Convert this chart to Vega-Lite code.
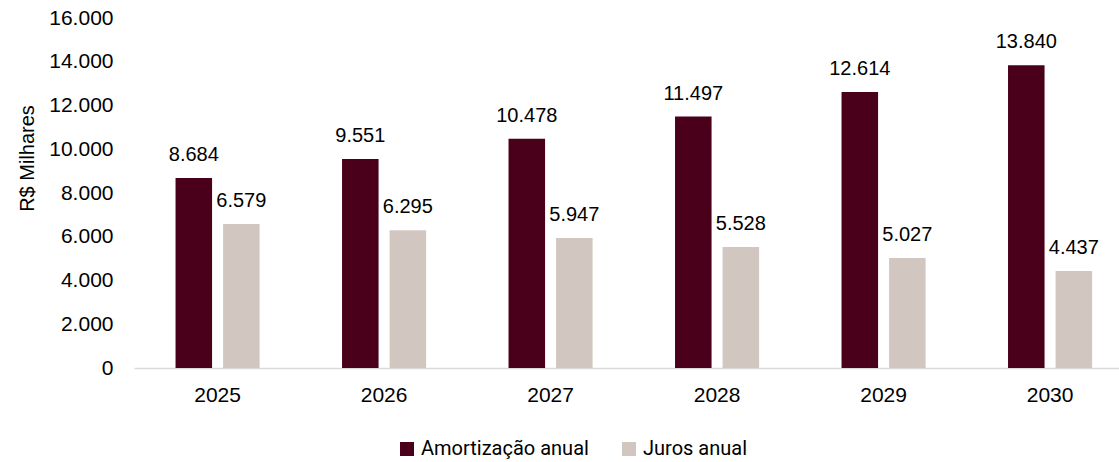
{
  "$schema": "https://vega.github.io/schema/vega-lite/v6.json",
  "width": 985,
  "height": 350,
  "autosize": {"type": "none"},
  "padding": {"left": 134, "top": 18, "right": 0, "bottom": 94},
  "config": {
    "view": {"stroke": null},
    "locale": {"number": {"decimal": ",", "thousands": ".", "grouping": [3], "currency": ["R$", ""]}},
    "font": "Liberation Sans"
  },
  "data": {
    "values": [
      {"ano": "2025", "serie": "Amortização anual", "valor": 8684},
      {"ano": "2025", "serie": "Juros anual", "valor": 6579},
      {"ano": "2026", "serie": "Amortização anual", "valor": 9551},
      {"ano": "2026", "serie": "Juros anual", "valor": 6295},
      {"ano": "2027", "serie": "Amortização anual", "valor": 10478},
      {"ano": "2027", "serie": "Juros anual", "valor": 5947},
      {"ano": "2028", "serie": "Amortização anual", "valor": 11497},
      {"ano": "2028", "serie": "Juros anual", "valor": 5528},
      {"ano": "2029", "serie": "Amortização anual", "valor": 12614},
      {"ano": "2029", "serie": "Juros anual", "valor": 5027},
      {"ano": "2030", "serie": "Amortização anual", "valor": 13840},
      {"ano": "2030", "serie": "Juros anual", "valor": 4437}
    ]
  },
  "encoding": {
    "x": {
      "field": "ano", "type": "nominal", "title": null,
      "scale": {"paddingInner": 0.495, "paddingOuter": 0.2055, "align": 0.607},
      "axis": {"labelAngle": 0, "ticks": false, "domainColor": "#d9d9d9", "domainWidth": 1.5, "labelFontSize": 21, "labelColor": "#000000", "labelPadding": 16, "labelFont": "Liberation Sans"}
    },
    "xOffset": {
      "field": "serie", "type": "nominal",
      "scale": {"paddingInner": 0.2316, "paddingOuter": 0}
    },
    "y": {
      "field": "valor", "type": "quantitative",
      "scale": {"domain": [0, 16000]},
      "axis": {"title": "R$ Milhares", "values": [0, 2000, 4000, 6000, 8000, 10000, 12000, 14000, 16000], "format": ",d", "grid": false, "domain": false, "ticks": false, "labelFontSize": 21, "labelColor": "#000000", "labelPadding": 21, "labelFont": "Liberation Sans", "titleFontSize": 20, "titleFontWeight": "normal", "titleColor": "#000000", "titleFont": "Liberation Sans", "titlePadding": 11, "titleY": 140}
    }
  },
  "layer": [
    {
      "mark": {"type": "bar"},
      "encoding": {
        "color": {
          "field": "serie", "type": "nominal",
          "scale": {"domain": ["Amortização anual", "Juros anual"], "range": ["#4a001a", "#d1c7c0"]},
          "legend": {"title": null, "orient": "none", "direction": "horizontal", "legendX": 263, "legendY": 421, "symbolType": "square", "symbolSize": 196, "symbolStrokeWidth": 0, "labelFontSize": 20, "labelFont": "Roboto", "labelColor": "#000000", "labelOffset": 4, "labelLimit": 400, "columnPadding": 30}
        }
      }
    },
    {
      "mark": {"type": "text", "baseline": "bottom", "dy": -13, "fontSize": 20, "font": "Liberation Sans", "color": "#000000"},
      "encoding": {
        "text": {"field": "valor", "type": "quantitative", "format": ",d"}
      }
    }
  ]
}
